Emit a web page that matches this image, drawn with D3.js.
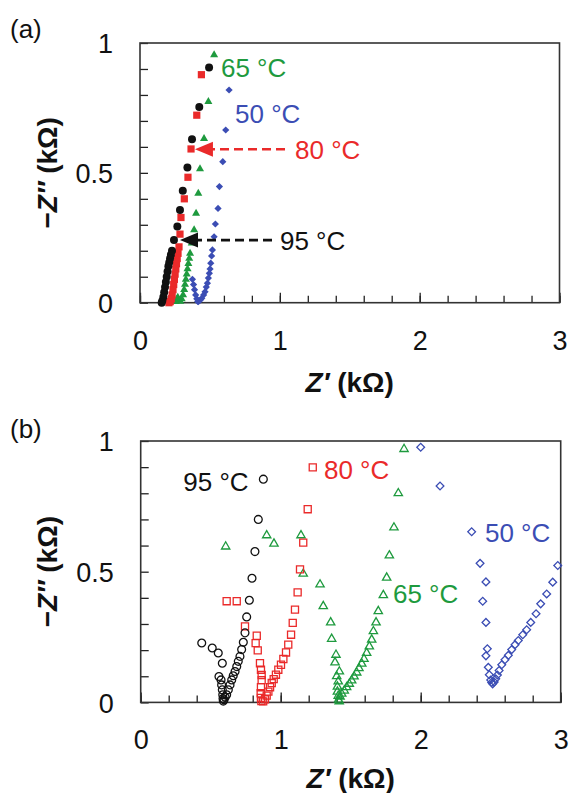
<!DOCTYPE html>
<html><head><meta charset="utf-8">
<script src="https://cdn.jsdelivr.net/npm/d3@7"></script>
<style>body{margin:0;background:#fff}svg{display:block}</style>
</head><body>
<script>
// ---------- data ----------
const xTicksMajor = [0, 1, 2, 3];
const yTicksLabeled = [0, 0.5, 1];
const xDomain = [0, 3];
const yDomain = [0, 1];

// panel (a)  [Z', -Z''] in kΩ
const a95 = [[0.494,0.906],[0.424,0.754],[0.372,0.629],[0.339,0.521],[0.306,0.431],[0.286,0.357],[0.267,0.293],[0.243,0.241],[0.229,0.200],
  [0.221,0.185],[0.215,0.17],[0.209,0.155],[0.203,0.14],[0.197,0.12],[0.191,0.10],[0.185,0.08],[0.179,0.06],[0.173,0.04],[0.167,0.022],[0.160,0.008],[0.155,0.0]];
const a80 = [[0.439,0.878],[0.406,0.722],[0.365,0.592],[0.343,0.483],[0.317,0.40],[0.293,0.328],[0.286,0.264],[0.279,0.215],
  [0.272,0.19],[0.266,0.17],[0.261,0.15],[0.256,0.13],[0.251,0.11],[0.246,0.09],[0.241,0.07],[0.236,0.05],[0.230,0.03],[0.224,0.015],[0.216,0.004],[0.207,0.0]];
const a65 = [[0.530,0.954],[0.489,0.774],[0.458,0.632],[0.429,0.515],[0.417,0.421],[0.401,0.344],[0.387,0.280],[0.370,0.229],[0.358,0.190],
  [0.352,0.17],[0.346,0.15],[0.340,0.13],[0.334,0.11],[0.328,0.09],[0.322,0.07],[0.316,0.05],[0.308,0.03],[0.298,0.015],[0.288,0.005],[0.278,0.01],[0.270,0.02],[0.262,0.012],[0.255,0.004]];
const a50 = [[0.637,0.819],[0.613,0.665],[0.592,0.543],[0.568,0.447],[0.558,0.363],[0.539,0.303],[0.530,0.254],[0.518,0.203],[0.512,0.18],[0.506,0.152],[0.501,0.13],[0.496,0.113],[0.489,0.095],[0.482,0.075],[0.474,0.06],[0.465,0.042],[0.455,0.03],[0.442,0.017],[0.430,0.01],[0.417,0.004],
  [0.413,0.005],[0.406,0.015],[0.398,0.03],[0.390,0.05],[0.383,0.07],[0.375,0.09]];

// panel (b)
const b95 = [[0.436,0.227],[0.511,0.208],[0.554,0.189],[0.583,0.150],[0.559,0.099],[0.574,0.086],[0.578,0.067],[0.583,0.048],[0.586,0.029],[0.588,0.015],[0.590,0.005],
  [0.595,0.010],[0.603,0.020],[0.614,0.029],[0.626,0.048],[0.638,0.067],[0.650,0.086],[0.661,0.102],[0.674,0.118],[0.686,0.137],[0.697,0.157],[0.709,0.176],[0.721,0.202],[0.733,0.230],[0.745,0.266],[0.757,0.327],[0.776,0.391],[0.795,0.475],[0.816,0.577],[0.840,0.700],[0.876,0.854]];
const b80 = [[0.614,0.387],[0.686,0.387],[0.745,0.291],[0.829,0.255],[0.821,0.227],[0.836,0.199],[0.852,0.150],[0.859,0.125],[0.864,0.105],[0.864,0.085],[0.859,0.058],[0.857,0.035],[0.859,0.017],[0.862,0.005],
  [0.875,0.004],[0.888,0.012],[0.900,0.026],[0.912,0.041],[0.924,0.058],[0.936,0.074],[0.950,0.089],[0.966,0.106],[0.983,0.125],[1.002,0.144],[1.019,0.166],[1.038,0.191],[1.054,0.221],[1.074,0.259],[1.086,0.304],[1.102,0.355],[1.121,0.421],[1.138,0.509],[1.161,0.611],[1.193,0.739],[1.229,0.899]];
const b65 = [[0.607,0.596],[0.900,0.639],[0.952,0.607],[1.145,0.639],[1.161,0.492],[1.281,0.451],[1.304,0.368],[1.357,0.306],[1.364,0.243],[1.395,0.182],[1.388,0.153],[1.419,0.118],[1.400,0.100],[1.411,0.080],[1.405,0.060],[1.405,0.041],[1.411,0.025],[1.413,0.010],[1.418,0.004],
  [1.424,0.022],[1.436,0.033],[1.454,0.045],[1.471,0.058],[1.490,0.071],[1.507,0.084],[1.524,0.099],[1.543,0.114],[1.559,0.131],[1.579,0.148],[1.595,0.166],[1.614,0.189],[1.633,0.214],[1.650,0.240],[1.662,0.272],[1.681,0.306],[1.697,0.349],[1.733,0.410],[1.757,0.477],[1.776,0.562],[1.809,0.669],[1.840,0.800],[1.881,0.969]];
const b50 = [[2.000,0.976],[2.138,0.828],[2.364,0.653],[2.424,0.532],[2.466,0.461],[2.443,0.387],[2.466,0.306],[2.476,0.205],[2.466,0.178],[2.483,0.134],[2.490,0.106],[2.500,0.086],[2.507,0.076],[2.514,0.071],
  [2.525,0.078],[2.536,0.090],[2.548,0.105],[2.560,0.122],[2.579,0.144],[2.602,0.163],[2.626,0.180],[2.650,0.202],[2.674,0.221],[2.697,0.237],[2.729,0.259],[2.757,0.278],[2.786,0.306],[2.824,0.339],[2.857,0.377],[2.900,0.415],[2.943,0.460],[2.979,0.524]];

const labelsA = [
  {t:"65 °C", x:0.579, y:0.870, c:"green"},
  {t:"50 °C", x:0.680, y:0.691, c:"blue"},
  {t:"80 °C", x:1.109, y:0.553, c:"red"},
  {t:"95 °C", x:1.001, y:0.203, c:"black"}];
const arrowsA = [
  {from:[1.037,0.591], to:[0.393,0.591], c:"red"},
  {from:[0.944,0.241], to:[0.286,0.241], c:"black"}];
const labelsB = [
  {t:"95 °C", x:0.304, y:0.808, c:"black"},
  {t:"80 °C", x:1.309, y:0.854, c:"red"},
  {t:"65 °C", x:1.802, y:0.382, c:"green"},
  {t:"50 °C", x:2.459, y:0.612, c:"blue"}];

// ---------- style ----------
const COL = {black:"#111111", red:"#ea2a2a", green:"#1e9a3e", blue:"#3b4db4"};
const FONT = "'Liberation Sans', Arial, Helvetica, sans-serif";

const svg = d3.select("body").append("svg").attr("width",570).attr("height",793);

function panel(cfg){
  const x = d3.scaleLinear().domain(xDomain).range(cfg.xr);
  const y = d3.scaleLinear().domain(yDomain).range(cfg.yr);
  const g = svg.append("g");
  const [x0,x1] = cfg.xr, [y0,y1] = cfg.yr;

  g.append("g").attr("transform",`translate(${x0},0)`)
    .call(d3.axisLeft(y).tickValues(d3.range(0,1.0001,0.1)).tickSizeInner(-8).tickSizeOuter(0).tickFormat(""))
    .call(s=>s.select(".domain").remove())
    .call(s=>s.selectAll("line").attr("stroke","#222").attr("stroke-width",1.3));
  g.append("g").attr("transform",`translate(${x0},0)`)
    .call(d3.axisLeft(y).tickValues(yTicksLabeled).tickSize(0).tickPadding(27).tickFormat(d3.format("~g")))
    .call(s=>s.select(".domain").remove())
    .call(s=>s.selectAll("text").attr("font-size",27).attr("font-family",FONT).attr("fill","#111").attr("dy","0.36em"));
  g.append("g").attr("transform",`translate(0,${y0})`)
    .call(d3.axisBottom(x).tickValues(d3.range(0,3.0001,0.2)).tickSizeInner(-7).tickSizeOuter(0).tickFormat(""))
    .call(s=>s.select(".domain").remove())
    .call(s=>s.selectAll("line").attr("stroke","#222").attr("stroke-width",1.3));
  g.append("g").attr("transform",`translate(0,${y0})`)
    .call(d3.axisBottom(x).tickValues(xTicksMajor).tickSizeInner(-10).tickSizeOuter(0).tickPadding(0).tickFormat(d3.format("d")))
    .call(s=>s.select(".domain").remove())
    .call(s=>s.selectAll("line").attr("stroke","#222").attr("stroke-width",1.3))
    .call(s=>s.selectAll("text").attr("font-size",27).attr("font-family",FONT).attr("fill","#111").attr("y",47).attr("dy",null));

  g.append("rect").attr("x",x0).attr("y",y1).attr("width",x1-x0).attr("height",y0-y1)
    .attr("fill","none").attr("stroke","#333").attr("stroke-width",1.6);

  const xt = g.append("text").attr("x",(x0+x1)/2).attr("y",y0+cfg.xtOff).attr("text-anchor","middle")
    .attr("font-family",FONT).attr("font-size",28).attr("font-weight","bold").attr("fill","#111");
  xt.append("tspan").attr("font-style","italic").text("Z′");
  xt.append("tspan").text(" (kΩ)");
  const yt = g.append("text").attr("transform",`translate(${cfg.ytX},${(y0+y1)/2}) rotate(-90)`)
    .attr("text-anchor","middle").attr("dy","0.36em")
    .attr("font-family",FONT).attr("font-size",28).attr("font-weight","bold").attr("fill","#111");
  yt.append("tspan").text("−");
  yt.append("tspan").attr("font-style","italic").text("Z″");
  yt.append("tspan").text(" (kΩ)");

  g.append("text").attr("x",10).attr("y",y1+cfg.letterOff).attr("font-family",FONT).attr("font-size",26).attr("fill","#111").text(cfg.letter);

  const plot = g.append("g");
  cfg.series.forEach(sr=>{
    const gen = d3.symbol().type(sr.type).size(sr.size);
    plot.append("g").selectAll("path").data(sr.data).join("path")
      .attr("d",gen)
      .attr("transform",d=>`translate(${x(d[0])},${y(d[1])})${sr.rot?" rotate(45)":""}`)
      .attr("fill",cfg.filled?COL[sr.c]:"none")
      .attr("stroke",cfg.filled?"none":COL[sr.c])
      .attr("stroke-width",1.3);
  });

  (cfg.arrows||[]).forEach(a=>{
    const xt0 = x(a.to[0]), yt0 = y(a.to[1]), xf = x(a.from[0]), yf = y(a.from[1]);
    const head = 18, hw = 7.5;
    g.append("line").attr("x1",xf).attr("y1",yf).attr("x2",xt0+head-2).attr("y2",yt0)
      .attr("stroke",COL[a.c]).attr("stroke-width",2.6).attr("stroke-dasharray","9,5");
    g.append("path").attr("d",d3.line()([[xt0,yt0],[xt0+head,yt0-hw],[xt0+head,yt0+hw]])+"Z").attr("fill",COL[a.c]);
  });

  cfg.labels.forEach(l=>{
    g.append("text").attr("x",x(l.x)).attr("y",y(l.y)).attr("font-family",FONT).attr("font-size",26)
      .attr("fill",COL[l.c]).text(l.t);
  });
}

panel({
  xr:[140,559.5], yr:[302.7,43], filled:true, letter:"(a)", letterOff:-5, xtOff:89, ytX:47,
  series:[
    {data:a50, type:d3.symbolSquare, size:26, rot:true, c:"blue"},
    {data:a65, type:d3.symbolTriangle, size:28, c:"green"},
    {data:a80, type:d3.symbolSquare, size:52, c:"red"},
    {data:a95, type:d3.symbolCircle, size:50, c:"black"}],
  arrows:arrowsA, labels:labelsA
});
panel({
  xr:[140.7,560.7], yr:[702.4,441], filled:false, letter:"(b)", letterOff:-3, xtOff:86, ytX:47,
  series:[
    {data:b50, type:d3.symbolSquare, size:30, rot:true, c:"blue"},
    {data:b65, type:d3.symbolTriangle, size:30, c:"green"},
    {data:b80, type:d3.symbolSquare, size:50, c:"red"},
    {data:b95, type:d3.symbolCircle, size:48, c:"black"}],
  labels:labelsB
});
</script>
</body></html>
